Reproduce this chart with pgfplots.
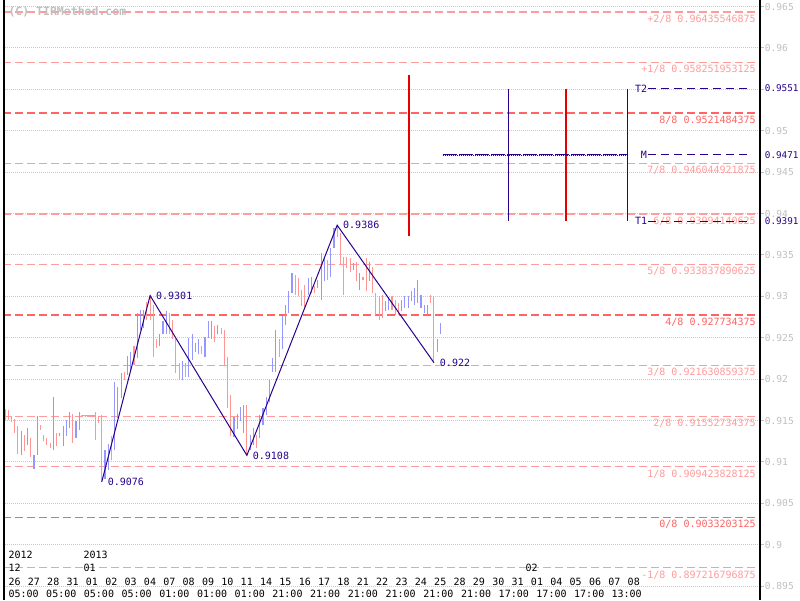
\documentclass[border=0pt]{standalone}
\usepackage{pgfplots}
\usepackage{pgfplotstable}
\pgfplotsset{compat=1.18}
\usepackage{fontspec}
\setmainfont{DejaVu Sans Mono}
\definecolor{upc}{RGB}{150,150,255}
\definecolor{dnc}{RGB}{255,150,150}
\definecolor{mpink}{RGB}{255,155,155}
\definecolor{mstrong}{RGB}{255,100,100}
\definecolor{navyc}{RGB}{40,0,140}
\definecolor{redc}{RGB}{230,0,0}
\definecolor{gridc}{RGB}{200,200,200}
\definecolor{tgray}{RGB}{192,192,192}

\pgfplotstableread{
i h l
5 0.9137 0.9108
7 0.9141 0.9121
9 0.9109 0.9092
10 0.9155 0.9108
15 0.9179 0.9115
17 0.9135 0.9131
18 0.9143 0.9119
19 0.9151 0.9131
20 0.9160 0.9141
22 0.9149 0.9129
23 0.9160 0.9139
31 0.9114 0.9080
32 0.9122 0.9090
34 0.9197 0.9115
35 0.9191 0.9153
36 0.9208 0.9177
38 0.9228 0.9205
39 0.9233 0.9211
41 0.9280 0.9225
42 0.9284 0.9260
43 0.9284 0.9262
48 0.9255 0.9240
49 0.9270 0.9254
50 0.9282 0.9255
55 0.9222 0.9199
57 0.9250 0.9203
58 0.9254 0.9223
59 0.9244 0.9233
60 0.9248 0.9231
62 0.9251 0.9227
63 0.9270 0.9250
64 0.9270 0.9249
66 0.9266 0.9254
71 0.9154 0.9130
72 0.9158 0.9140
73 0.9167 0.9149
74 0.9169 0.9135
76 0.9133 0.9115
77 0.9141 0.9121
79 0.9157 0.9129
80 0.9165 0.9145
81 0.9179 0.9157
82 0.9199 0.9173
83 0.9225 0.9209
84 0.9259 0.9209
86 0.9276 0.9237
87 0.9290 0.9266
88 0.9306 0.9280
89 0.9328 0.9304
94 0.9322 0.9302
95 0.9324 0.9304
97 0.9320 0.9310
98 0.9352 0.9296
99 0.9348 0.9318
101 0.9358 0.9324
102 0.9382 0.9358
108 0.9340 0.9332
110 0.9328 0.9308
113 0.9342 0.9318
118 0.9294 0.9282
119 0.9299 0.9283
123 0.9296 0.9282
124 0.9300 0.9286
125 0.9300 0.9286
126 0.9306 0.9294
127 0.9310 0.9290
128 0.9320 0.9292
129 0.9302 0.9286
130 0.9290 0.9280
131 0.9290 0.9278
134 0.9249 0.9233
135 0.9268 0.9255
}\upbars

\pgfplotstableread{
i h l
0 0.9164 0.9151
1 0.9163 0.9151
2 0.9155 0.9148
3 0.9152 0.9135
4 0.9143 0.9110
6 0.9133 0.9113
8 0.9129 0.9106
11 0.9145 0.9139
12 0.9133 0.9125
13 0.9129 0.9120
14 0.9123 0.9117
16 0.9135 0.9119
21 0.9158 0.9123
24 0.91560 0.91552
25 0.91560 0.91552
26 0.91560 0.91552
27 0.91560 0.91552
28 0.9160 0.9127
29 0.9155 0.9147
30 0.9157 0.9076
33 0.9131 0.9102
37 0.9209 0.9199
40 0.9240 0.9217
44 0.9293 0.9272
45 0.9301 0.9272
46 0.9290 0.9227
47 0.9248 0.9238
51 0.9280 0.9254
52 0.9271 0.9248
53 0.9248 0.9207
54 0.9219 0.9200
56 0.9219 0.9203
61 0.9240 0.9231
65 0.9264 0.9245
67 0.9262 0.9254
68 0.9259 0.9216
69 0.9227 0.9165
70 0.9181 0.9131
75 0.9169 0.9108
78 0.9133 0.9117
85 0.9249 0.9227
90 0.9326 0.9302
91 0.9322 0.9300
92 0.9308 0.9288
93 0.9314 0.9286
96 0.9312 0.9304
100 0.9344 0.9320
103 0.9386 0.9372
104 0.9376 0.9338
105 0.9348 0.9302
106 0.9348 0.9334
107 0.9346 0.9330
109 0.9342 0.9318
111 0.9324 0.9320
112 0.9346 0.9306
114 0.9336 0.9304
115 0.9304 0.9278
116 0.9300 0.9272
117 0.9302 0.9274
120 0.9300 0.9283
121 0.9296 0.9278
122 0.9292 0.9278
132 0.9302 0.9292
133 0.9300 0.9220
}\dnbars

\begin{document}
\begin{tikzpicture}[x=1pt,y=1pt,
  mline/.style={draw=mpink, line width=1.3pt, dash pattern=on 8pt off 4pt},
  sline/.style={draw=mstrong, line width=1.6pt, dash pattern=on 8pt off 4pt},
  rlab/.style={anchor=west, inner sep=0pt, xshift=4.7pt, font=\fontsize{9.6pt}{11pt}\selectfont},
  nlab/.style={anchor=west, inner sep=0pt, xshift=4.7pt, font=\fontsize{9.3pt}{11pt}\selectfont, text=navyc},
]
\useasboundingbox (0,0) rectangle (800,600);
\fill[white] (0,0) rectangle (800,600);
\begin{axis}[
  at={(3pt,0pt)}, anchor=south west,
  scale only axis, width=757pt, height=600pt,
  xmin=-0.620, xmax=234.11,
  ymin=0.8933333, ymax=0.9657971,
  clip=false,
  axis line style={draw=none},
  xtick=\empty,
  minor xtick={3.63,9.61,15.5,23.26,24.28,29.98,36.19,42.39,48.06,54.26,59.94,66.14,71.84,78.05,84.25,89.92,96.12,101.8,108,114.2,117.8,120.2,125.6,131.2,137.4,143.6,149.5,151,156,161.9,167.4,173.6,179.2,180.8,185.4,187,191.6},
  xminorgrids=true,
  minor tick length=0pt,
  minor grid style={gridc, line width=1pt, dash pattern=on 1pt off 1pt},
  ytick={0.895,0.9,0.905,0.91,0.915,0.92,0.925,0.93,0.935,0.94,0.945,0.95,0.955,0.96,0.965},
  yticklabels={},
  ytick pos=right,
  tick align=outside,
  major tick length=4pt,
  ytick style={draw=tgray, line width=1pt},
  ymajorgrids=true,
  major grid style={gridc, line width=1pt, dash pattern=on 1pt off 1pt},
  every node/.append style={inner sep=0pt},
]
% Murray levels
\addplot[mline] coordinates {(-0.62,0.96435546875) (234.11,0.96435546875)};
\addplot[mline] coordinates {(-0.62,0.958251953125) (234.11,0.958251953125)};
\addplot[sline] coordinates {(-0.62,0.9521484375) (234.11,0.9521484375)};
\addplot[mline] coordinates {(-0.62,0.946044921875) (234.11,0.946044921875)};
\addplot[mline] coordinates {(-0.62,0.93994140625) (234.11,0.93994140625)};
\addplot[mline] coordinates {(-0.62,0.933837890625) (234.11,0.933837890625)};
\addplot[sline] coordinates {(-0.62,0.927734375) (234.11,0.927734375)};
\addplot[mline] coordinates {(-0.62,0.921630859375) (234.11,0.921630859375)};
\addplot[mline] coordinates {(-0.62,0.91552734375) (234.11,0.91552734375)};
\addplot[mline] coordinates {(-0.62,0.909423828125) (234.11,0.909423828125)};
\addplot[sline] coordinates {(-0.62,0.9033203125) (234.11,0.9033203125)};
\addplot[mline] coordinates {(-0.62,0.897216796875) (234.11,0.897216796875)};

\node[anchor=base east, yshift=-10.3pt, text=mpink] at (axis cs:233.89,0.96435546875) {+2/8 0.96435546875};
\node[anchor=base east, yshift=-10.3pt, text=mpink] at (axis cs:233.89,0.958251953125) {+1/8 0.958251953125};
\node[anchor=base east, yshift=-10.3pt, text=mstrong] at (axis cs:233.89,0.9521484375) {8/8 0.9521484375};
\node[anchor=base east, yshift=-10.3pt, text=mpink] at (axis cs:233.89,0.946044921875) {7/8 0.946044921875};
\node[anchor=base east, yshift=-10.3pt, text=mpink] at (axis cs:233.89,0.93994140625) {6/8 0.93994140625};
\node[anchor=base east, yshift=-10.3pt, text=mpink] at (axis cs:233.89,0.933837890625) {5/8 0.933837890625};
\node[anchor=base east, yshift=-10.3pt, text=mstrong] at (axis cs:233.89,0.927734375) {4/8 0.927734375};
\node[anchor=base east, yshift=-10.3pt, text=mpink] at (axis cs:233.89,0.921630859375) {3/8 0.921630859375};
\node[anchor=base east, yshift=-10.3pt, text=mpink] at (axis cs:233.89,0.91552734375) {2/8 0.91552734375};
\node[anchor=base east, yshift=-10.3pt, text=mpink] at (axis cs:233.89,0.909423828125) {1/8 0.909423828125};
\node[anchor=base east, yshift=-10.3pt, text=mstrong] at (axis cs:233.89,0.9033203125) {0/8 0.9033203125};
\node[anchor=base east, yshift=-10.3pt, text=mpink] at (axis cs:233.89,0.897216796875) {-1/8 0.897216796875};

% price bars
\addplot[draw=none, error bars/.cd, y dir=plus, y explicit, error mark=none,
  error bar style={draw=upc, line width=1.1pt, solid}]
  table[x=i, y=l, y error plus expr={\thisrow{h}-\thisrow{l}}] {\upbars};
\addplot[draw=none, error bars/.cd, y dir=plus, y explicit, error mark=none,
  error bar style={draw=dnc, line width=1.1pt, solid}]
  table[x=i, y=l, y error plus expr={\thisrow{h}-\thisrow{l}}] {\dnbars};
\addplot[draw=dnc, line width=1pt] coordinates {(23.7,0.91556) (27.9,0.91556)};

% zigzag
\addplot[draw=navyc, line width=1pt] coordinates {(30,0.9076) (45,0.9301) (75,0.9108) (103,0.9386) (133,0.922)};
\node[anchor=west, xshift=2.5pt, text=navyc] at (axis cs:30,0.9076) {0.9076};
\node[anchor=west, xshift=2.5pt, text=navyc] at (axis cs:45,0.9301) {0.9301};
\node[anchor=west, xshift=2.5pt, text=navyc] at (axis cs:75,0.9108) {0.9108};
\node[anchor=west, xshift=2.5pt, text=navyc] at (axis cs:103,0.9386) {0.9386};
\node[anchor=west, xshift=2.5pt, text=navyc] at (axis cs:133,0.922) {0.922};

% projection
\addplot[draw=redc, line width=1.3pt] coordinates {(125.27,0.9567) (125.27,0.9373)};
\addplot[draw=redc, line width=1pt] coordinates {(124.9,0.9471) (125.7,0.9471)};
\addplot[draw=navyc, line width=1.3pt] coordinates {(156.1,0.9551) (156.1,0.9391)};
\addplot[draw=redc, line width=1.3pt] coordinates {(173.95,0.9551) (173.95,0.9391)};
\addplot[draw=navyc, line width=1.3pt] coordinates {(192.96,0.9551) (192.96,0.9391)};
\addplot[draw=navyc, line width=1pt, dash pattern=on 14pt off 2pt] coordinates {(135.8,0.9471) (193.2,0.9471)};
\addplot[draw=navyc, line width=1pt, dash pattern=on 1pt off 1pt] coordinates {(135.8,0.94698) (193.2,0.94698)};

\addplot[draw=navyc, line width=1pt, dash pattern=on 8pt off 5pt] coordinates {(199.4,0.9551) (231.6,0.9551)};
\addplot[draw=navyc, line width=1pt, dash pattern=on 8pt off 5pt] coordinates {(199.4,0.9471) (231.6,0.9471)};
\addplot[draw=navyc, line width=1pt, dash pattern=on 8pt off 5pt] coordinates {(199.4,0.9391) (231.6,0.9391)};
\node[anchor=west, text=navyc] at (axis cs:194.3,0.9551) {T2};
\node[anchor=west, text=navyc] at (axis cs:196.1,0.9471) {M};
\node[anchor=west, text=navyc] at (axis cs:194.3,0.9391) {T1};

% axis side lines
\addplot[draw=black, line width=2pt] coordinates {(-0.465,0.8933333) (-0.465,0.9657971)};
\addplot[draw=black, line width=1.7pt] coordinates {(234.2,0.8933333) (234.2,0.9657971)};

% right price labels
\node[rlab, text=tgray] at (axis cs:234.11,0.965) {0.965};
\node[rlab, text=tgray] at (axis cs:234.11,0.96) {0.96};
\node[rlab, text=tgray] at (axis cs:234.11,0.95) {0.95};
\node[rlab, text=tgray] at (axis cs:234.11,0.945) {0.945};
\node[rlab, text=tgray] at (axis cs:234.11,0.94) {0.94};
\node[rlab, text=tgray] at (axis cs:234.11,0.935) {0.935};
\node[rlab, text=tgray] at (axis cs:234.11,0.93) {0.93};
\node[rlab, text=tgray] at (axis cs:234.11,0.925) {0.925};
\node[rlab, text=tgray] at (axis cs:234.11,0.92) {0.92};
\node[rlab, text=tgray] at (axis cs:234.11,0.915) {0.915};
\node[rlab, text=tgray] at (axis cs:234.11,0.91) {0.91};
\node[rlab, text=tgray] at (axis cs:234.11,0.905) {0.905};
\node[rlab, text=tgray] at (axis cs:234.11,0.9) {0.9};
\node[rlab, text=tgray] at (axis cs:234.11,0.895) {0.895};
\node[nlab] at (axis cs:234.11,0.9551) {0.9551};
\node[nlab] at (axis cs:234.11,0.9471) {0.9471};
\node[nlab] at (axis cs:234.11,0.9391) {0.9391};

% watermark
\node[anchor=west, text=tgray, font=\fontsize{11.5pt}{12pt}\selectfont\bfseries] at (axis cs:0,0.96435) {(C) TIRMethod.com};

% time axis labels
\node[anchor=west] at (axis cs:0,0.898768) {2012};
\node[anchor=west] at (axis cs:0,0.897198) {12};
\node[anchor=west] at (axis cs:23.26,0.898768) {2013};
\node[anchor=west] at (axis cs:23.26,0.897198) {01};
\node[anchor=west] at (axis cs:160.3,0.897198) {02};

\node[anchor=west] at (axis cs:0,0.895568) {26};
\node[anchor=west] at (axis cs:6,0.895568) {27};
\node[anchor=west] at (axis cs:12,0.895568) {28};
\node[anchor=west] at (axis cs:18,0.895568) {31};
\node[anchor=west] at (axis cs:24,0.895568) {01};
\node[anchor=west] at (axis cs:30,0.895568) {02};
\node[anchor=west] at (axis cs:36,0.895568) {03};
\node[anchor=west] at (axis cs:42,0.895568) {04};
\node[anchor=west] at (axis cs:48,0.895568) {07};
\node[anchor=west] at (axis cs:54,0.895568) {08};
\node[anchor=west] at (axis cs:60,0.895568) {09};
\node[anchor=west] at (axis cs:66,0.895568) {10};
\node[anchor=west] at (axis cs:72,0.895568) {11};
\node[anchor=west] at (axis cs:78,0.895568) {14};
\node[anchor=west] at (axis cs:84,0.895568) {15};
\node[anchor=west] at (axis cs:90,0.895568) {16};
\node[anchor=west] at (axis cs:96,0.895568) {17};
\node[anchor=west] at (axis cs:102,0.895568) {18};
\node[anchor=west] at (axis cs:108,0.895568) {21};
\node[anchor=west] at (axis cs:114,0.895568) {22};
\node[anchor=west] at (axis cs:120,0.895568) {23};
\node[anchor=west] at (axis cs:126,0.895568) {24};
\node[anchor=west] at (axis cs:132,0.895568) {25};
\node[anchor=west] at (axis cs:138,0.895568) {28};
\node[anchor=west] at (axis cs:144,0.895568) {29};
\node[anchor=west] at (axis cs:150,0.895568) {30};
\node[anchor=west] at (axis cs:156,0.895568) {31};
\node[anchor=west] at (axis cs:162,0.895568) {01};
\node[anchor=west] at (axis cs:168,0.895568) {04};
\node[anchor=west] at (axis cs:174,0.895568) {05};
\node[anchor=west] at (axis cs:180,0.895568) {06};
\node[anchor=west] at (axis cs:186,0.895568) {07};
\node[anchor=west] at (axis cs:192,0.895568) {08};

\node[anchor=west] at (axis cs:0,0.894058) {05:00};
\node[anchor=west] at (axis cs:11.69,0.894058) {05:00};
\node[anchor=west] at (axis cs:23.38,0.894058) {05:00};
\node[anchor=west] at (axis cs:35.07,0.894058) {05:00};
\node[anchor=west] at (axis cs:46.76,0.894058) {01:00};
\node[anchor=west] at (axis cs:58.45,0.894058) {01:00};
\node[anchor=west] at (axis cs:70.14,0.894058) {01:00};
\node[anchor=west] at (axis cs:81.83,0.894058) {21:00};
\node[anchor=west] at (axis cs:93.52,0.894058) {21:00};
\node[anchor=west] at (axis cs:105.21,0.894058) {21:00};
\node[anchor=west] at (axis cs:116.9,0.894058) {21:00};
\node[anchor=west] at (axis cs:128.6,0.894058) {21:00};
\node[anchor=west] at (axis cs:140.3,0.894058) {21:00};
\node[anchor=west] at (axis cs:152.0,0.894058) {17:00};
\node[anchor=west] at (axis cs:163.7,0.894058) {17:00};
\node[anchor=west] at (axis cs:175.4,0.894058) {17:00};
\node[anchor=west] at (axis cs:187.0,0.894058) {13:00};
\end{axis}
\end{tikzpicture}
\end{document}
